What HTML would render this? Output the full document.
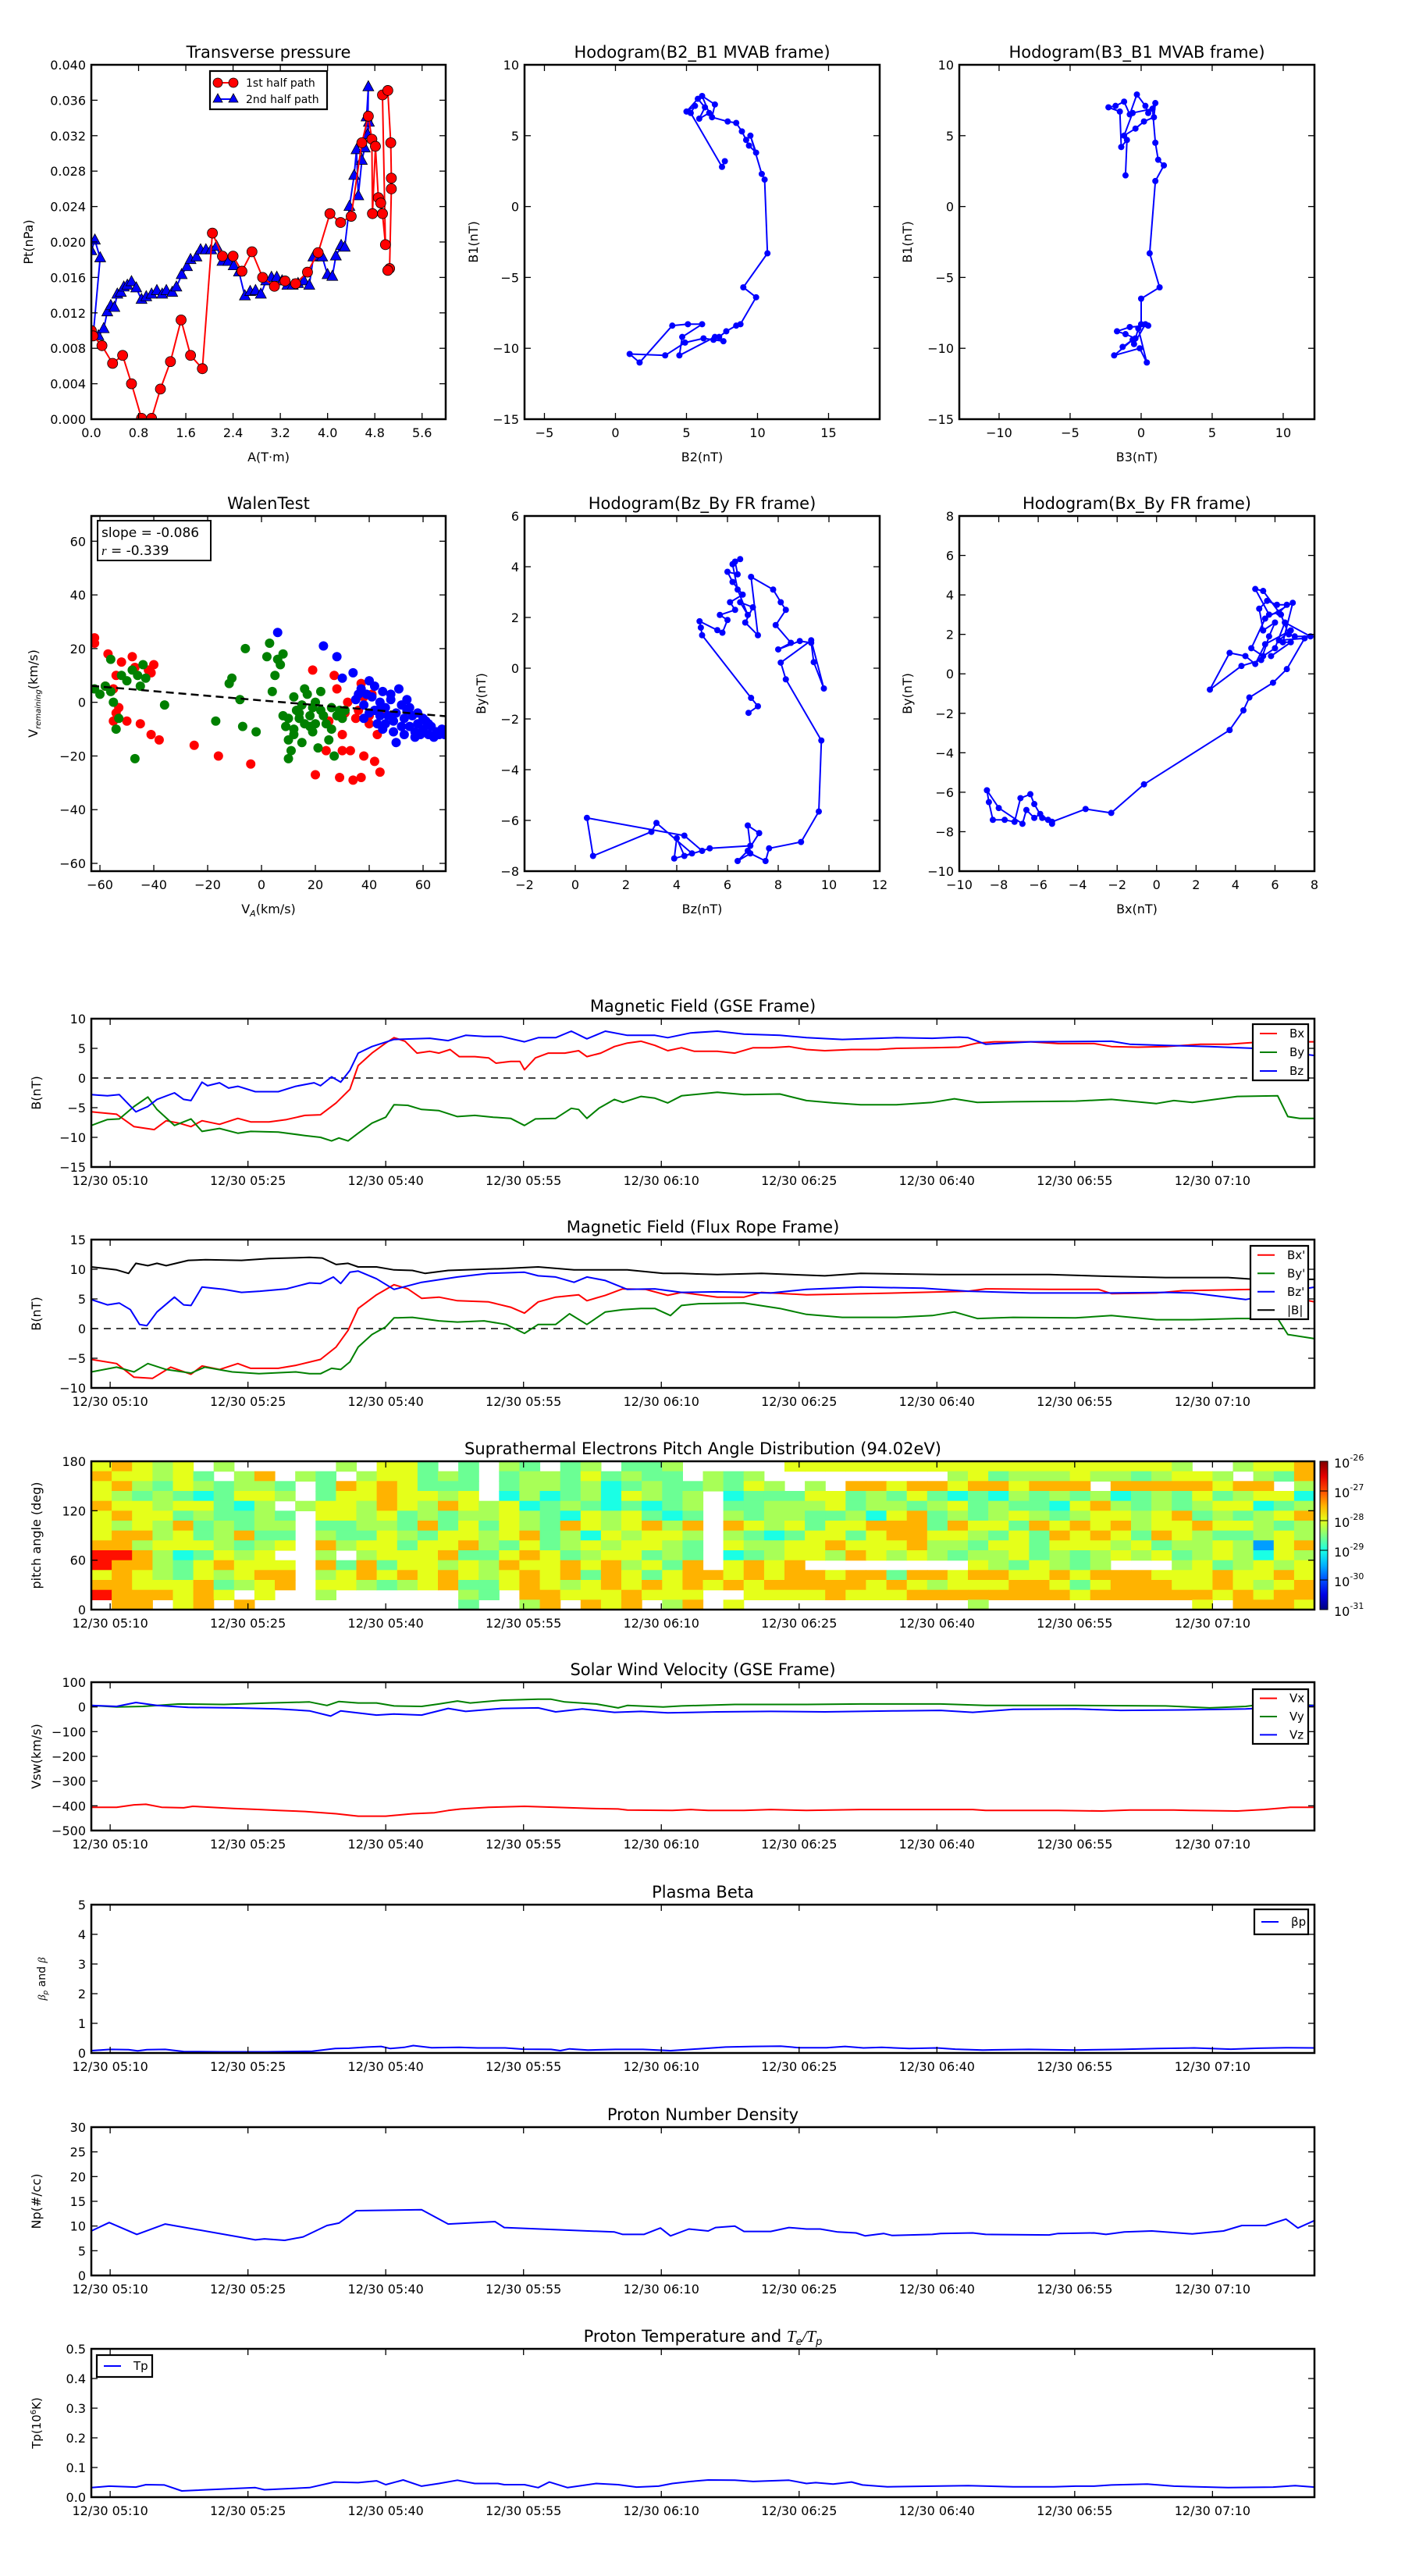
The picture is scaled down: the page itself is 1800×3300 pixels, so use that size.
<!DOCTYPE html>
<html><head><meta charset="utf-8"><style>
html,body{margin:0;padding:0;background:#fff;}
svg{display:block;font-family:"DejaVu Sans","Liberation Sans",sans-serif;}
</style></head><body>
<svg id="fig" width="1800" height="3300" viewBox="0 0 1800 3300" xmlns="http://www.w3.org/2000/svg">
<rect x="0" y="0" width="1800" height="3300" fill="#fff"/>
</svg>
<script>
// ---------- data ----------
const ptRedA=[0,0.03,0.18,0.36,0.53,0.68,0.85,1.02,1.17,1.34,1.52,1.68,1.88,2.05,2.22,2.40,2.55,2.72,2.90,3.10,3.28,3.46,3.66,3.84,4.04,4.22,4.40,4.58,4.69,4.75,4.76,4.81,4.86,4.90,4.93,4.98,4.93,5.02,5.07,5.08,5.08,5.05,5.02];
const ptRedP=[0.0100,0.0094,0.0083,0.0063,0.0072,0.0040,0.0001,0.0001,0.0034,0.0065,0.0112,0.0072,0.0057,0.0210,0.0184,0.0184,0.0167,0.0189,0.0160,0.0150,0.0156,0.0153,0.0166,0.0188,0.0232,0.0222,0.0229,0.0312,0.0342,0.0316,0.0232,0.0308,0.0250,0.0244,0.0232,0.0197,0.0366,0.0371,0.0312,0.0272,0.0260,0.0170,0.0168];
const ptBlueA=[0,0.06,0.15,0.03,0.12,0.21,0.27,0.33,0.39,0.44,0.50,0.55,0.61,0.68,0.76,0.85,0.93,1.02,1.11,1.20,1.27,1.37,1.44,1.53,1.62,1.68,1.78,1.85,1.94,2.03,2.12,2.22,2.32,2.41,2.50,2.60,2.69,2.78,2.87,2.96,3.05,3.14,3.23,3.32,3.41,3.50,3.60,3.69,3.76,3.87,3.91,4.00,4.08,4.14,4.23,4.29,4.37,4.45,4.49,4.52,4.58,4.63,4.66,4.69,4.68,4.70];
const ptBlueP=[0.0190,0.0202,0.0182,0.0094,0.0094,0.0102,0.0121,0.0128,0.0126,0.0141,0.0143,0.0149,0.0151,0.0155,0.0148,0.0135,0.0138,0.0141,0.0145,0.0141,0.0145,0.0143,0.0149,0.0163,0.0172,0.0180,0.0183,0.0191,0.0191,0.0191,0.0195,0.0178,0.0178,0.0173,0.0166,0.0139,0.0144,0.0145,0.0141,0.0156,0.0160,0.0160,0.0156,0.0151,0.0151,0.0153,0.0156,0.0151,0.0183,0.0184,0.0183,0.0163,0.0161,0.0184,0.0196,0.0194,0.0240,0.0275,0.0304,0.0252,0.0292,0.0306,0.0341,0.0375,0.0321,0.0335];

const h21B2=[7.7,7.5,5.3,5.6,5.0,5.8,6.3,5.9,6.6,6.1,7.0,6.8,7.9,8.5,8.9,9.2,9.4,9.9,9.5,10.3,10.5,10.7,9.0,9.9,8.8,8.5,7.8,7.3,7.6,6.9,6.2,4.9,3.5,1.0,1.7,4.0,5.1,6.1,4.7,4.5,7.0];
const h21B1=[3.2,2.8,6.6,7.1,6.7,7.6,7.0,6.2,6.6,7.8,7.2,6.3,6.0,5.9,5.3,4.7,4.3,3.8,5.0,2.3,1.9,-3.3,-5.7,-6.4,-8.3,-8.4,-8.8,-9.2,-9.5,-9.4,-9.3,-9.6,-10.5,-10.4,-11.0,-8.4,-8.3,-8.3,-9.2,-10.5,-9.2];
const h31B3=[-1.1,-1.0,-1.4,-1.5,-2.3,-1.8,-1.2,-0.8,-0.3,0.3,0.5,1.0,0.9,0.2,-0.4,-1.2,-0.6,0.8,1.0,1.2,1.6,1.0,0.6,1.3,0.0,0.0,0.5,-0.8,-1.7,-1.1,-0.4,-1.3,-0.6,-1.9,-0.1,0.4,-0.2,-0.5,0.3];
const h31B1=[2.2,4.7,4.2,6.7,7.0,7.1,7.4,6.5,7.9,7.1,6.6,7.3,6.3,6.0,5.5,5.0,6.6,6.9,4.5,3.3,2.9,1.8,-3.3,-5.7,-6.5,-8.3,-8.4,-8.5,-8.8,-9.0,-9.3,-9.9,-9.4,-10.5,-10.0,-11.0,-8.6,-9.7,-8.3];

const walenRedX=[-62,-62,-57,-52,-48,-47,-42,-40,-41,-54,-55,-58,-53,-54,-55,-50,-45,-41,-38,-25,-16,-4,19,20,24,27,29,30,33,34,37,38,40,42,44,35,32,38,28,40,45,43,36,31,41,48,25,37,30];
const walenRedY=[24,22,18,15,17,13,12,14,11,10,5,6,-2,-4,-7,-7,-8,-12,-14,-16,-20,-23,12,-27,-18,10,-28,-18,-18,-29,-28,-20,-8,-22,-26,-6,0,2,5,-5,-3,-12,-3,-4,3,-5,-7,7,-12];
const walenGreenX=[-62,-60,-58,-56,-55,-53,-54,-56,-52,-50,-48,-46,-44,-45,-43,-47,-36,-17,-12,-11,-6,-7,-2,-8,2,3,4,5,6,7,8,8,9,10,10,11,12,12,13,14,15,16,17,18,19,20,20,21,22,23,24,26,26,27,28,29,30,14,16,18,22,12,15,10,19,25,31];
const walenGreenY=[5,3,6,4,0,-6,-10,16,10,8,12,10,14,6,9,-21,-1,-7,7,9,20,-9,-11,1,17,22,4,10,16,14,18,-5,-9,-14,-21,-18,-10,2,-3,-6,-1,-8,3,-5,-2,0,-8,-17,4,-5,-8,-2,-10,-20,-5,-3,-6,-4,5,-9,-3,-12,-15,-6,-11,-14,-3];
const walenBlueX=[6,23,28,30,34,35,37,38,39,40,41,42,43,44,45,46,47,48,49,50,51,52,53,54,55,56,57,58,59,60,61,62,63,64,65,66,67,68,50,52,46,44,42,48,54,40,36,38,45,55,58,60,62,43,49,53,57];
const walenBlueY=[26,21,17,9,11,1,5,-1,3,8,2,6,-3,0,4,-2,-5,1,-7,-4,5,-1,-6,-3,-9,-5,-11,-8,-12,-10,-7,-12,-9,-13,-11,-12,-10,-12,-15,-9,-8,-5,-3,3,1,-4,3,-6,-10,-2,-4,-6,-8,-8,-11,-12,-13];
const walenSlope=-0.086, walenIntercept=0.7;

const hzBz=[6.83,7.2,6.93,5.0,4.95,4.9,5.6,5.8,6.0,5.7,6.3,6.1,6.6,6.2,6.0,6.4,6.3,6.5,6.2,6.4,6.8,6.5,7.0,6.7,7.2,6.93,7.8,8.1,8.3,7.9,8.5,8.0,8.85,9.3,9.4,9.8,9.3,8.1,8.3,9.7,9.6,8.9,7.64,7.5,6.9,6.4,6.8,7.25,6.8,6.9,5.3,4.3,4.0,3.9,4.6,3.2,3.0,0.7,0.46,4.3,5.0];
const hzBy=[-1.76,-1.5,-1.17,1.3,1.6,1.85,1.5,1.4,1.9,2.1,2.3,2.6,2.9,3.4,3.8,3.7,4.2,4.3,4.1,3.1,2.1,2.6,2.4,1.8,1.3,3.6,3.1,2.6,2.3,1.7,1.0,0.74,1.07,1.0,0.24,-0.8,1.1,0.22,-0.44,-2.85,-5.65,-6.85,-7.1,-7.6,-7.3,-7.6,-7.2,-6.5,-6.2,-7.0,-7.1,-7.4,-6.7,-7.5,-7.3,-6.1,-6.45,-7.4,-5.9,-6.6,-7.2];
const hxBx=[-5.3,-5.8,-6.2,-6.4,-6.9,-7.2,-7.7,-8.3,-8.5,-8.6,-8.0,-6.8,-6.6,-6.2,-5.9,-5.5,-5.3,-3.6,-2.3,-0.64,3.7,4.4,4.7,5.9,6.6,7.5,6.2,6.8,5.5,5.0,4.5,3.7,2.7,4.3,5.3,5.7,6.0,5.4,5.2,5.6,6.1,6.6,6.2,5.7,5.0,5.4,6.3,6.7,7.0,7.8,6.5,6.0,5.4,4.8,5.5,6.9,6.4,6.8,5.8];
const hxBy=[-7.6,-7.3,-6.6,-6.1,-6.3,-7.5,-7.4,-7.4,-6.5,-5.9,-6.8,-7.6,-6.9,-7.3,-7.1,-7.4,-7.5,-6.85,-7.05,-5.6,-2.85,-1.85,-1.2,-0.45,0.24,1.8,1.7,2.2,1.5,0.5,0.9,1.06,-0.8,0.4,0.7,1.9,2.6,2.2,3.3,3.7,3.5,3.5,3.1,3.0,4.3,4.2,3.0,2.0,1.9,1.9,2.6,1.3,0.9,1.3,2.8,3.6,1.6,1.6,0.9];

// time series (minutes after 05:00)
const gseBxT=[7.95,10.7,12.6,14.8,16.1,17.5,18.8,20.0,21.9,23.9,25.3,27.3,29.2,31.2,32.9,34.6,36.1,37.0,38.5,40.0,40.9,42.1,43.4,44.8,45.8,47.0,48.0,49.7,51.2,52.0,53.6,54.6,55.1,56.3,57.7,59.5,61.0,61.9,63.4,64.9,66.3,67.8,69.3,70.7,72.2,73.6,76.1,78.0,80.0,81.9,83.9,85.8,87.8,90.7,93.6,95.6,99.5,102.4,104.4,106.3,110.2,113.2,117.1,119.0,121.9,124.9,126.8,128.7,131.7,134.6,136.6,141.1];
const gseBxV=[-5.7,-6.1,-8.2,-8.7,-7.2,-7.6,-8.2,-7.2,-7.8,-6.8,-7.4,-7.4,-7.0,-6.3,-6.2,-4.2,-1.9,2.1,4.2,5.9,6.8,6.2,4.2,4.5,4.2,4.8,3.6,3.6,3.4,2.5,2.8,2.8,1.4,3.4,4.2,4.2,4.6,3.6,4.2,5.3,5.9,6.2,5.5,4.6,5.1,4.5,4.5,4.2,5.1,5.1,5.3,4.8,4.6,4.8,4.8,5.0,5.1,5.2,5.9,6.1,6.1,5.8,5.8,5.3,5.2,5.3,5.5,5.7,5.7,6.0,6.1,6.1];
const gseByT=[7.95,9.7,11,12.6,14.1,15.1,17,18.8,20,21.9,23.9,25.3,28.3,31.2,32.9,34.1,34.9,35.9,37,38.5,40,40.9,42.4,43.9,45.8,47.8,49.7,51.7,53.6,55.1,56.3,58.5,60.2,61,61.9,63.2,64.9,65.8,67.8,69.3,70.7,72.2,76.1,79,82.9,85.8,88.7,91.7,95.6,99.5,101.9,104.4,108.3,115.1,119,123.9,125.8,127.8,132.7,137.1,138.2,139.5,141.1];
const gseByV=[-8.0,-7.0,-6.9,-4.8,-3.2,-5.3,-8.0,-6.9,-9.0,-8.5,-9.3,-9.0,-9.1,-9.7,-10.0,-10.6,-10.1,-10.6,-9.3,-7.6,-6.6,-4.5,-4.6,-5.3,-5.5,-6.5,-6.3,-6.6,-6.8,-8.0,-6.9,-6.8,-5.1,-5.3,-6.8,-5.1,-3.6,-4.1,-3.1,-3.4,-4.2,-3.0,-2.4,-2.8,-2.7,-3.8,-4.2,-4.5,-4.5,-4.1,-3.5,-4.1,-4.0,-3.9,-3.6,-4.3,-3.8,-4.1,-3.1,-3.0,-6.5,-6.8,-6.8];
const gseBzT=[7.95,9.7,11,12.8,14.1,15.1,17,18,18.8,20,20.6,21.9,22.9,23.9,25.8,28.3,30.2,32.2,32.9,34.1,35.1,36.1,37,38.5,40.9,44.8,46.8,48.7,50.7,52.6,55.1,56.6,58.5,60.2,61.9,63.9,66.3,69.3,70.7,73.2,76.1,79,82.9,85.8,89.7,95.6,99.5,102.4,103.4,105.3,110.2,119,121,124.9,129.7,134.6,141.1];
const gseBzV=[-2.8,-3.0,-2.8,-5.7,-4.8,-3.6,-2.5,-3.6,-3.8,-0.7,-1.3,-0.8,-1.7,-1.4,-2.3,-2.3,-1.4,-0.8,-1.3,0.2,-0.7,1.3,4.2,5.3,6.5,6.7,6.3,7.2,7.0,7.0,6.1,6.8,6.8,7.9,6.6,7.9,7.2,7.2,6.8,7.6,7.9,7.4,7.2,6.8,6.5,6.8,6.7,6.9,6.8,5.7,6.1,6.2,5.7,5.5,5.3,5.0,3.8];

const frBxT=[7.95,10.7,12.6,14.6,16.6,18.8,20,21.9,23.9,25.3,28.3,30.2,32.9,34.6,35.9,37,39,40.9,42.4,43.9,45.8,47.8,51.2,53.6,55.1,56.6,58.5,61,61.9,63.9,65.8,68.3,70.7,72.2,76.1,79,80.9,85.8,95.6,103.4,105.3,112.2,117.6,119,123.9,126.8,134.6,141.1];
const frBxV=[-5.2,-5.9,-8.2,-8.4,-6.5,-7.7,-6.3,-6.9,-5.9,-6.7,-6.7,-6.2,-5.2,-3.1,-0.3,3.4,5.7,7.4,6.7,5.1,5.3,4.7,4.5,3.6,2.6,4.5,5.3,5.7,4.7,5.6,6.7,6.6,5.6,6.1,5.3,5.3,6.1,5.7,6.0,6.3,6.7,6.6,6.6,5.9,6.0,6.4,6.6,4.5];
const frByT=[7.95,10.7,12.6,14.1,16.1,18.8,20.3,23.3,26.2,30.2,31.7,32.9,34.1,35.1,36.1,37,38.5,40,40.9,42.9,45.8,47.8,50.7,53.1,55.1,56.6,58.5,60,61.9,63.9,65.8,67.8,69.3,71,72.2,74.1,79,82.9,85.8,89.7,95.6,99.5,101.9,104.4,108.3,115.1,119,123.9,127.8,132.7,137.1,138.2,141.1];
const frByV=[-7.3,-6.5,-7.3,-5.9,-6.9,-7.5,-6.5,-7.3,-7.6,-7.3,-7.6,-7.6,-6.7,-6.9,-5.6,-3.1,-1.0,0.3,1.8,1.9,1.3,1.1,1.3,0.7,-0.8,0.7,0.7,2.5,0.7,2.8,3.2,3.4,3.4,2.2,3.9,4.2,4.3,3.4,2.4,1.9,1.9,2.2,2.8,1.7,1.9,1.8,2.2,1.5,1.5,1.7,1.7,-1.0,-1.7];
const frBzT=[7.95,9.7,11,12.2,13.2,14,15.1,17,18,18.8,20,22.4,24.3,26.3,29.2,31.7,32.9,34.3,35.1,36.1,37,39,40.9,43.9,47.8,51.2,55.1,56.6,58.5,60.5,61.9,63.9,66.3,69.3,72.2,76.1,81.9,85.8,91.7,98.5,103.4,110.2,119,124.9,127.8,133.6,141.1];
const frBzV=[4.9,4.0,4.3,3.2,0.7,0.5,2.8,5.3,4.0,3.9,7.0,6.6,6.1,6.3,6.7,7.7,7.6,8.7,7.6,9.5,9.7,8.4,6.6,7.8,8.7,9.3,9.5,8.9,8.7,7.8,8.7,8.1,6.6,6.7,6.1,6.2,6.0,6.6,7.0,6.8,6.3,6.0,6.0,6.1,6.0,4.9,7.0];
const frBmT=[7.95,10.7,12,12.8,14.1,15.1,16.1,18.5,20.4,24.3,27.3,31.7,33.1,34.6,35.9,37,39,40.9,42.9,44.3,46.8,52.6,56.6,60.5,66.3,70.2,72.2,76.1,80.9,87.8,91.7,100.4,112.2,119,124.9,131.7,134.6,141.1];
const frBmV=[10.4,9.9,9.3,11.0,10.6,11.0,10.6,11.5,11.6,11.5,11.8,12.0,11.9,10.8,11.0,10.4,10.4,9.9,9.8,9.3,9.8,10.1,10.4,9.9,9.9,9.3,9.3,9.1,9.3,8.9,9.3,9.1,9.1,8.8,8.6,8.6,8.3,8.3];

// PAD: rows from 180 deg (top) to 0 deg (bottom), 60 time columns, codes -> log10 flux
const padCodes=['r','o','y','l','g','c','b'];
const padLogs=[-26.7,-27.5,-28.0,-28.3,-28.6,-29.0,-29.6];
const padRows=[
"yoyly.l... ..l.yyg.g. lg.gl.ggl. ....yyyyyy yyyyyyyyyy yyyl..lyyo",
"oyylyg.lo. lg.lyyglg. gllgyglgg. lgl....... ..lyglllyl lglyyl.lgo",
"yolgylgllg .goyoyggg. gllglcglgg lgyl.l.ooy ooyooyooo. oooooyoo.l",
"ylglgcgyyl .gyyoyyly. clcglcylgl .cgggyyglg ygcgclglgl cglgyglyyc",
"oyylyygcl. lyyloyloyl ycglgcgcgl .gglllygll glyglggcyo lglglyycgl",
"yoyyglgglg .yylyglgll ylgcylygcg .lgllgglcy oglglylgly ylyoglglyo",
"ylyloglgll .ggllgogyg ylgoylyolo .oylygyyoo ogoyygoyoy olyyoyylgl",
"yoolyglogg .lggylgyyl yoglcylyyl .lgcgyygyo oyylgygoyo ygoylgglyl",
"oolyyylgly .olyygyyol gyglylyylg .yllyyoyyy ollgyygyyy lygllylbyo",
"rrolcgyly. .l.lyyyogg yoyglyyglg .cglyyloyl ylgllyglgl ylyglylcyl",
"roolgyoyyy .ogogyylyl oyyoyolygo .yoyo..... ...ylgylgl ...lyglyly",
"yoylgylyoo .lyoyoyoyl yoyogoygyo oyoyooyoog ooyooyyoyo ooyyyoyyoy",
"ooyyyoglyo .yylglyogg yoylyoyoyo yoyoooooyo ylyyyooygy oooyyoylyo",
"roooyoy.y. .l......lg .ooyyyoyyy ..yyyyoyyy ooooooooyo oooooyoyoo",
".oo.yo.o.. ........g. .lo.oyo.lo .y........ ...l...... ....y.oooy"
];

const swVxT=[7.95,10.7,12.6,13.9,15.6,18,19,23.4,26.3,28.3,31.2,34.6,37,40,42.9,45.3,46.8,48.2,51.2,55.1,58.5,62.4,65.3,66.3,71.2,73.2,75.1,79,81.9,85.8,91.7,103.9,105.3,113.2,118,121,125.8,127.8,132.7,135.6,138.5,141.1];
const swVxV=[-406,-406,-396,-394,-406,-408,-402,-411,-415,-419,-423,-432,-442,-442,-432,-428,-419,-413,-406,-402,-406,-411,-413,-417,-419,-415,-419,-419,-415,-419,-415,-415,-419,-419,-421,-417,-417,-419,-421,-415,-406,-406];
const swVyT=[7.95,10.7,13.6,17.5,22.4,27.3,31.7,33.6,34.9,37,39,40.9,43.9,45.8,47.8,49.2,52.6,56.6,58,59.5,62.9,65.3,66.3,70.2,72.2,78,85.8,91.7,100.4,105.3,115.1,124.9,129.7,133.6,136.6,141.1];
const swVyV=[6,0,2,12,10,16,20,6,22,16,16,4,2,12,24,16,27,31,31,20,12,-4,6,0,4,10,10,12,12,6,6,4,-4,2,16,6];
const swVzT=[7.95,10.7,12.8,15.1,18.5,23.4,28.3,31.7,34,35.1,39,40.9,43.9,46.8,48.7,52.6,56.6,58.5,61.4,64.9,67.8,70.7,76.1,81.9,87.8,95.6,100.4,103.9,108.3,115.1,120,126.8,133.6,141.1];
const swVzV=[6,2,18,6,-2,-4,-8,-16,-37,-16,-33,-29,-33,-6,-18,-6,-4,-20,-8,-22,-18,-24,-20,-18,-20,-16,-14,-22,-10,-8,-14,-12,-8,6];

const betaT=[7.95,10,12,13,14,16,18,22,27,32,34.5,36,38,39.5,40.5,42,43,45,48,50,53,55,58,59,60,62,65,68,71,74,77,80,83,85,88,90,92,94,97,100,102,105,110,115,120,124,128,132,135,138,141.1];
const betaV=[0.08,0.12,0.11,0.07,0.11,0.12,0.05,0.04,0.04,0.06,0.15,0.16,0.2,0.22,0.15,0.19,0.25,0.18,0.19,0.17,0.17,0.13,0.12,0.08,0.14,0.1,0.12,0.12,0.08,0.14,0.2,0.22,0.23,0.18,0.18,0.22,0.17,0.19,0.15,0.17,0.13,0.1,0.12,0.1,0.12,0.15,0.17,0.13,0.16,0.18,0.17];

const npT=[7.95,9.9,12.9,16,25.8,26.8,29,31,33.6,34.9,36.8,43.9,46.8,51.9,52.9,64.9,65.8,68.1,69.9,71,73,75.1,75.9,78,79,81.9,83.9,85.8,87.3,89.2,91.2,92.2,94.2,95.1,99.5,100.4,103.9,105.3,112.2,113.2,117.1,118.4,120.4,123.4,127.8,131.2,133.2,135.8,138,139.3,141.1];
const npV=[9.0,10.7,8.3,10.4,7.2,7.4,7.1,7.8,10.1,10.6,13.1,13.3,10.4,10.9,9.7,8.8,8.3,8.3,9.6,8.0,9.4,9.0,9.7,10.0,8.9,8.9,9.7,9.4,9.4,8.8,8.6,8.0,8.5,8.1,8.3,8.5,8.6,8.3,8.2,8.5,8.6,8.3,8.8,9.0,8.4,9.0,10.1,10.1,11.4,9.6,11.1];

const tpT=[7.95,9.9,12.8,13.9,15.9,17.8,25.8,26.8,31.7,34.4,37,39,40,41.9,43.9,45.8,47.8,49.7,52.2,52.9,55.1,56.6,57.8,59.8,62.9,65.3,67.3,69.7,71.2,73.2,75.1,78,80,83.9,85.8,86.8,88.7,90.7,91.9,94.6,99.5,103.4,108.3,112.7,115.1,117.1,119,122.9,125.8,131.7,136.6,139,141.1];
const tpV=[0.032,0.037,0.034,0.042,0.041,0.021,0.032,0.025,0.032,0.051,0.049,0.055,0.042,0.058,0.037,0.046,0.057,0.046,0.046,0.042,0.042,0.032,0.051,0.032,0.046,0.042,0.034,0.037,0.046,0.053,0.058,0.057,0.053,0.057,0.046,0.049,0.044,0.051,0.041,0.035,0.037,0.039,0.035,0.035,0.037,0.037,0.041,0.044,0.037,0.032,0.034,0.039,0.034];

const timeTicks=[10,25,40,55,70,85,100,115,130];
const timeTickLabels=["12/30 05:10","12/30 05:25","12/30 05:40","12/30 05:55","12/30 06:10","12/30 06:25","12/30 06:40","12/30 06:55","12/30 07:10"];
const T0=7.95, T1=141.1;

// ---------- helpers ----------
const NS='http://www.w3.org/2000/svg';
const svg=document.getElementById('fig');
function mk(tag,attrs,parent){const e=document.createElementNS(NS,tag);for(const k in attrs)e.setAttribute(k,attrs[k]);(parent||svg).appendChild(e);return e;}
function fmtNum(v,d){let s=v.toFixed(d);if(s.startsWith('-'))s='\u2212'+s.slice(1);if(s==='\u22120'||/^\u22120\.0+$/.test(s))s=s.slice(1);return s;}
let clipId=0;
function makeAxes(name,x0,y0,w,h,xmin,xmax,ymin,ymax,xt,xtl,yt,ytl){
  const g=mk('g',{});
  
  
  const sx=v=>x0+(v-xmin)/(xmax-xmin)*w;
  const sy=v=>y0+h-(v-ymin)/(ymax-ymin)*h;
  const id='clip'+(clipId++);
  const cp=mk('clipPath',{id:id},g);mk('rect',{x:x0,y:y0,width:w,height:h},cp);
  const plot=mk('g',{'clip-path':'url(#'+id+')'},g);
  
  
  const over=mk('g',{},g);
  for(let i=0;i<xt.length;i++){const x=sx(xt[i]);
    mk('line',{x1:x,y1:y0+h,x2:x,y2:y0+h-8,stroke:'#000','stroke-width':1.3},over);
    mk('line',{x1:x,y1:y0,x2:x,y2:y0+8,stroke:'#000','stroke-width':1.3},over);
    const t=mk('text',{x:x,y:y0+h+23,'font-size':16,'text-anchor':'middle'},over);t.textContent=xtl[i];
    
    }
  for(let i=0;i<yt.length;i++){const y=sy(yt[i]);
    mk('line',{x1:x0,y1:y,x2:x0+8,y2:y,stroke:'#000','stroke-width':1.3},over);
    mk('line',{x1:x0+w,y1:y,x2:x0+w-8,y2:y,stroke:'#000','stroke-width':1.3},over);
    const t=mk('text',{x:x0-7,y:y+6,'font-size':16,'text-anchor':'end'},over);t.textContent=ytl[i];
    
    }
  const fr=mk('rect',{x:x0,y:y0,width:w,height:h,fill:'none',stroke:'#000','stroke-width':2.5},over);
  
  
  return {sx,sy,plot,over,x0,y0,w,h};
}
function title(ax,txt){const t=mk('text',{x:ax.x0+ax.w/2,y:ax.y0-9,'font-size':21,'text-anchor':'middle'});t.textContent=txt;
  
  return t;}
function xlabel(ax,txt){const t=mk('text',{x:ax.x0+ax.w/2,y:ax.y0+ax.h+54,'font-size':16,'text-anchor':'middle'});t.textContent=txt;
  
  return t;}
function ylabel(ax,x,txt){const cy=ax.y0+ax.h/2;const t=mk('text',{x:x,y:cy,'font-size':16,'text-anchor':'middle',transform:'rotate(-90 '+x+' '+cy+')'});t.textContent=txt;
  
  return t;}
function polyline(ax,xs,ys,color,name,sw){const pts=xs.map((x,i)=>ax.sx(x).toFixed(1)+','+ax.sy(ys[i]).toFixed(1)).join(' ');
  const p=mk('polyline',{points:pts,fill:'none',stroke:color,'stroke-width':sw||2,'stroke-linejoin':'round'},ax.plot);
  
  return p;}
function dots(ax,xs,ys,color,r,name){const g=mk('g',{},ax.plot);
  
  
  xs.forEach((x,i)=>mk('circle',{cx:ax.sx(x),cy:ax.sy(ys[i]),r:r,fill:color},g));return g;}
function range(a,b,s){const r=[];for(let v=a;v<=b+1e-9;v+=s)r.push(Math.round(v*1e6)/1e6);return r;}
function timeAxes(name,top,ymin,ymax,yt,ytl){return makeAxes(name,117,top,1567,190,T0,T1,ymin,ymax,timeTicks,timeTickLabels,yt,ytl);}
function legend(x,y,w,h,entries,name){const g=mk('g',{});
  
  
  mk('rect',{x:x,y:y,width:w,height:h,fill:'#fff',stroke:'#000','stroke-width':2.2},g);
  const step=h/entries.length;
  entries.forEach((e,i)=>{const cy=y+step*(i+0.5);
    mk('line',{x1:x+9,y1:cy,x2:x+31,y2:cy,stroke:e[1],'stroke-width':2},g);
    const t=mk('text',{x:x+47,y:cy+5,'font-size':15},g);t.textContent=e[0];
    
    });
  return g;}

// ---------- Transverse pressure ----------
{const yt=range(0,0.04,0.004);
 const ax=makeAxes('transverse-pressure-chart',117,83,454,454,0,6.0,0,0.04,range(0,5.6,0.8),range(0,5.6,0.8).map(v=>v.toFixed(1)),yt,yt.map(v=>v.toFixed(3)));
 title(ax,'Transverse pressure');xlabel(ax,'A(T\u00b7m)');ylabel(ax,42,'Pt(nPa)');
 polyline(ax,ptBlueA,ptBlueP,'#0000ff','second-half-line',2);
 const bg=mk('g',{},ax.plot);
 
 
 ptBlueA.forEach((a,i)=>{const x=ax.sx(a),y=ax.sy(ptBlueP[i]);mk('polygon',{points:`${x},${y-8} ${x-7},${y+5} ${x+7},${y+5}`,fill:'#0000ff',stroke:'#000','stroke-width':0.8},bg);});
 polyline(ax,ptRedA,ptRedP,'#ff0000','first-half-line',2);
 const rg=mk('g',{},ax.plot);
 
 
 ptRedA.forEach((a,i)=>mk('circle',{cx:ax.sx(a),cy:ax.sy(ptRedP[i]),r:6.5,fill:'#ff0000',stroke:'#000','stroke-width':0.8},rg));
 const lg=mk('g',{});
 
 
 mk('rect',{x:269,y:91,width:150,height:49,fill:'#fff',stroke:'#000','stroke-width':2.2},lg);
 mk('line',{x1:279,y1:106,x2:299,y2:106,stroke:'#f00','stroke-width':2},lg);
 mk('circle',{cx:279,cy:106,r:6,fill:'#f00',stroke:'#000','stroke-width':0.8},lg);mk('circle',{cx:299,cy:106,r:6,fill:'#f00',stroke:'#000','stroke-width':0.8},lg);
 mk('line',{x1:279,y1:127,x2:299,y2:127,stroke:'#00f','stroke-width':2},lg);
 mk('polygon',{points:'279,120 273,131 285,131',fill:'#00f',stroke:'#000','stroke-width':0.8},lg);mk('polygon',{points:'299,120 293,131 305,131',fill:'#00f',stroke:'#000','stroke-width':0.8},lg);
 let t=mk('text',{x:315,y:111,'font-size':14},lg);t.textContent='1st half path';
 
 
 t=mk('text',{x:315,y:132,'font-size':14},lg);t.textContent='2nd half path';
 
 
}
// ---------- Hodogram B2_B1 ----------
{const yt=range(-15,10,5);
 const ax=makeAxes('hodogram-b2-b1-chart',672,83,455,454,-6.4,18.6,-15,10,range(-5,15,5),range(-5,15,5).map(v=>fmtNum(v,0)),yt,yt.map(v=>fmtNum(v,0)));
 title(ax,'Hodogram(B2_B1 MVAB frame)');xlabel(ax,'B2(nT)');ylabel(ax,612,'B1(nT)');
 polyline(ax,h21B2,h21B1,'#0000ff','b2-b1-path',2);dots(ax,h21B2,h21B1,'#0000ff',4,'b2-b1-points');}
// ---------- Hodogram B3_B1 ----------
{const yt=range(-15,10,5);
 const ax=makeAxes('hodogram-b3-b1-chart',1229,83,455,454,-12.8,12.2,-15,10,range(-10,10,5),range(-10,10,5).map(v=>fmtNum(v,0)),yt,yt.map(v=>fmtNum(v,0)));
 title(ax,'Hodogram(B3_B1 MVAB frame)');xlabel(ax,'B3(nT)');ylabel(ax,1168,'B1(nT)');
 polyline(ax,h31B3,h31B1,'#0000ff','b3-b1-path',2);dots(ax,h31B3,h31B1,'#0000ff',4,'b3-b1-points');}
// ---------- Walen test ----------
{const ax=makeAxes('walen-test-chart',117,661,454,455,-63.2,68.4,-62.9,69.4,range(-60,60,20),range(-60,60,20).map(v=>fmtNum(v,0)),range(-60,60,20),range(-60,60,20).map(v=>fmtNum(v,0)));
 title(ax,'WalenTest');
 const xl=mk('text',{x:ax.x0+ax.w/2,y:ax.y0+ax.h+54,'font-size':16,'text-anchor':'middle'});
 
 
 xl.innerHTML='V<tspan font-size="11" font-style="italic" dy="4">A</tspan><tspan dy="-4">(km/s)</tspan>';
 const cy=ax.y0+ax.h/2;const yl=mk('text',{x:48,y:cy,'font-size':16,'text-anchor':'middle',transform:'rotate(-90 48 '+cy+')'});
 
 
 yl.innerHTML='V<tspan font-size="10" font-style="italic" dy="4">remaining</tspan><tspan dy="-4">(km/s)</tspan>';
 dots(ax,walenRedX,walenRedY,'#ff0000',6,'walen-red-points');
 dots(ax,walenGreenX,walenGreenY,'#008000',6,'walen-green-points');
 dots(ax,walenBlueX,walenBlueY,'#0000ff',6,'walen-blue-points');
 const fl=mk('line',{x1:ax.sx(-63.2),y1:ax.sy(walenSlope*-63.2+walenIntercept),x2:ax.sx(68.4),y2:ax.sy(walenSlope*68.4+walenIntercept),stroke:'#000','stroke-width':2.5,'stroke-dasharray':'10,6'},ax.plot);
 
 
 const bx=mk('g',{});
 
 
 mk('rect',{x:125,y:667,width:145,height:51,fill:'#fff',stroke:'#000','stroke-width':2},bx);
 let t=mk('text',{x:130,y:688,'font-size':17},bx);t.textContent='slope = '+fmtNum(walenSlope,3).replace('\u2212','-');
 t=mk('text',{x:130,y:711,'font-size':17},bx);t.innerHTML='<tspan font-style="italic" font-family="Liberation Serif, serif">r</tspan> = -0.339';}
// ---------- Hodogram Bz_By ----------
{const ax=makeAxes('hodogram-bz-by-chart',672,661,455,455,-2,12,-8,6,range(-2,12,2),range(-2,12,2).map(v=>fmtNum(v,0)),range(-8,6,2),range(-8,6,2).map(v=>fmtNum(v,0)));
 title(ax,'Hodogram(Bz_By FR frame)');xlabel(ax,'Bz(nT)');ylabel(ax,622,'By(nT)');
 polyline(ax,hzBz,hzBy,'#0000ff','bz-by-path',2);dots(ax,hzBz,hzBy,'#0000ff',4,'bz-by-points');}
// ---------- Hodogram Bx_By ----------
{const ax=makeAxes('hodogram-bx-by-chart',1229,661,455,455,-10,8,-10,8,range(-10,8,2),range(-10,8,2).map(v=>fmtNum(v,0)),range(-10,8,2),range(-10,8,2).map(v=>fmtNum(v,0)));
 title(ax,'Hodogram(Bx_By FR frame)');xlabel(ax,'Bx(nT)');ylabel(ax,1168,'By(nT)');
 polyline(ax,hxBx,hxBy,'#0000ff','bx-by-path',2);dots(ax,hxBx,hxBy,'#0000ff',4,'bx-by-points');}

// ---------- time series ----------
function zeroLine(ax,name){const l=mk('line',{x1:ax.x0,y1:ax.sy(0),x2:ax.x0+ax.w,y2:ax.sy(0),stroke:'#000','stroke-width':1.5,'stroke-dasharray':'9,7'},ax.plot);
 
 }
{const yt=range(-15,10,5);
 const ax=timeAxes('magnetic-field-gse-chart',1305,-15,10,yt,yt.map(v=>fmtNum(v,0)));
 title(ax,'Magnetic Field (GSE Frame)');ylabel(ax,52,'B(nT)');zeroLine(ax,'gse-zero-line');
 polyline(ax,gseBxT,gseBxV,'#ff0000','gse-bx-line');polyline(ax,gseByT,gseByV,'#008000','gse-by-line');polyline(ax,gseBzT,gseBzV,'#0000ff','gse-bz-line');
 legend(1605,1312,71,72,[['Bx','#ff0000'],['By','#008000'],['Bz','#0000ff']],'gse-legend');}
{const yt=range(-10,15,5);
 const ax=timeAxes('magnetic-field-fr-chart',1588,-10,15,yt,yt.map(v=>fmtNum(v,0)));
 title(ax,'Magnetic Field (Flux Rope Frame)');ylabel(ax,52,'B(nT)');zeroLine(ax,'fr-zero-line');
 polyline(ax,frBxT,frBxV,'#ff0000','fr-bx-line');polyline(ax,frByT,frByV,'#008000','fr-by-line');polyline(ax,frBzT,frBzV,'#0000ff','fr-bz-line');polyline(ax,frBmT,frBmV,'#000000','fr-bmag-line');
 legend(1602,1596,74,94,[["Bx'",'#ff0000'],["By'",'#008000'],["Bz'",'#0000ff'],['|B|','#000000']],'fr-legend');}
// PAD heatmap
function jet(t){t=Math.max(0,Math.min(1,t));const c=v=>Math.round(255*Math.max(0,Math.min(1,v)));
 return 'rgb('+c(1.5-Math.abs(4*t-3))+','+c(1.5-Math.abs(4*t-2))+','+c(1.5-Math.abs(4*t-1))+')';}
{const ax=timeAxes('pitch-angle-chart',1872,0,180,[0,60,120,180],['0','60','120','180']);
 title(ax,'Suprathermal Electrons Pitch Angle Distribution (94.02eV)');ylabel(ax,52,'pitch angle (deg)');
 const rows=padRows.map(r=>r.replace(/ /g,'').padEnd(60,'.').slice(0,60));
 const nR=rows.length,nC=60;const cw=(T1-T0)/nC, ch=180/nR;
 const hg=mk('g',{},ax.plot);
 
 
 rows.forEach((row,ri)=>{for(let ci=0;ci<nC;ci++){const k=padCodes.indexOf(row[ci]);if(k<0)continue;
   const lv=padLogs[k];const x=ax.sx(T0+ci*cw),x2=ax.sx(T0+(ci+1)*cw),y=ax.sy(180-ri*ch),y2=ax.sy(180-(ri+1)*ch);
   mk('rect',{x:x.toFixed(1),y:y.toFixed(1),width:(x2-x+0.6).toFixed(1),height:(y2-y+0.6).toFixed(1),fill:jet((lv+31)/5)},hg);}});
 // colorbar
 const defs=mk('defs',{});const gr=mk('linearGradient',{id:'jetgrad',x1:0,y1:1,x2:0,y2:0},defs);
 for(let i=0;i<=10;i++)mk('stop',{offset:i/10,'stop-color':jet(i/10)},gr);
 const cb=mk('g',{});
 
 
 mk('rect',{x:1691,y:1872,width:10,height:190,fill:'url(#jetgrad)',stroke:'#000','stroke-width':1},cb);
 const cbLabels=['-26','-27','-28','-29','-30','-31'];
 cbLabels.forEach((e,i)=>{const y=1872+i*38;mk('line',{x1:1691,y1:y,x2:1701,y2:y,stroke:'#000','stroke-width':1},cb);
   const t=mk('text',{x:1709,y:y+8,'font-size':16},cb);t.innerHTML='10<tspan font-size="11" dy="-9">'+e+'</tspan>';
   
   });}
{const yt=range(-500,100,100);
 const ax=timeAxes('solar-wind-velocity-chart',2155,-500,100,yt,yt.map(v=>fmtNum(v,0)));
 title(ax,'Solar Wind Velocity (GSE Frame)');ylabel(ax,52,'Vsw(km/s)');
 polyline(ax,swVxT,swVxV,'#ff0000','vx-line');polyline(ax,swVyT,swVyV,'#008000','vy-line');polyline(ax,swVzT,swVzV,'#0000ff','vz-line');
 legend(1605,2164,71,70,[['Vx','#ff0000'],['Vy','#008000'],['Vz','#0000ff']],'velocity-legend');}
{const yt=range(0,5,1);
 const ax=timeAxes('plasma-beta-chart',2440,0,5,yt,yt.map(v=>fmtNum(v,0)));
 title(ax,'Plasma Beta');
 const cy=ax.y0+ax.h/2;const yl=mk('text',{x:58,y:cy,'font-size':14,'text-anchor':'middle',transform:'rotate(-90 58 '+cy+')'});
 
 
 yl.innerHTML='<tspan font-style="italic" font-family="Liberation Serif, serif">\u03b2</tspan><tspan font-size="9" font-style="italic" dy="3">p</tspan><tspan dy="-3"> and </tspan><tspan font-style="italic" font-family="Liberation Serif, serif">\u03b2</tspan>';
 polyline(ax,betaT,betaV,'#0000ff','beta-line');
 legend(1607,2446,69,32,[['\u03b2p','#0000ff']],'beta-legend');}
{const yt=range(0,30,5);
 const ax=timeAxes('proton-density-chart',2725,0,30,yt,yt.map(v=>fmtNum(v,0)));
 title(ax,'Proton Number Density');ylabel(ax,52,'Np(#/cc)');
 polyline(ax,npT,npV,'#0000ff','density-line');}
{const yt=range(0,0.5,0.1);
 const ax=timeAxes('proton-temperature-chart',3009,0,0.5,yt,yt.map(v=>v.toFixed(1)));
 const t=title(ax,'');t.innerHTML='Proton Temperature and <tspan font-style="italic" font-family="Liberation Serif, serif">T</tspan><tspan font-size="13" font-style="italic" dy="4">e</tspan><tspan dy="-4" font-family="Liberation Serif, serif" font-style="italic">/T</tspan><tspan font-size="13" font-style="italic" dy="4">p</tspan>';
 const cy=ax.y0+ax.h/2;const yl=mk('text',{x:52,y:cy,'font-size':15,'text-anchor':'middle',transform:'rotate(-90 52 '+cy+')'});
 
 
 yl.innerHTML='Tp(10<tspan font-size="10" dy="-6">6</tspan><tspan dy="6">K)</tspan>';
 polyline(ax,tpT,tpV,'#0000ff','temperature-line');
 legend(124,3017,71,28,[['Tp','#0000ff']],'temperature-legend');}
</script>
</body></html>
